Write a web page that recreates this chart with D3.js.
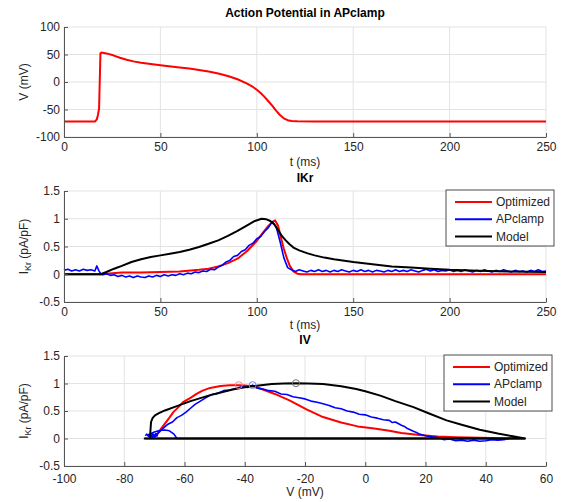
<!DOCTYPE html>
<html><head><meta charset="utf-8">
<script src="https://cdn.jsdelivr.net/npm/d3@7"></script>
<style>
body{margin:0;background:#fff}
svg{display:block}
text{font-family:"Liberation Sans",Arial,Helvetica,sans-serif}
</style>
</head><body>
<svg id="chart" width="565" height="502"></svg>
<script>
// ---------------- DATA ----------------
// Panel 1: action potential, [t (ms), V (mV)]
const apTrace = [[0,-72],[16,-72],[17,-68],[17.6,-60],[18.2,-48],[18.9,52],[19.5,53.5],[22,52],[25.5,48.5],[29,44],[32.5,40.5],[36,37.5],[40,35],[50,30.5],[60,26.5],[65,24.5],[70,22],[75,19],[80,15.5],[85,11],[90,5],[95,-3],[98,-9],[100,-14],[102,-20],[104,-27],[106,-35],[108,-43],[110,-52],[112,-60],[114,-66],[116,-69.5],[118,-71],[121,-71.5],[130,-72],[250,-72]];

// Panel 2: IKr vs time, [t (ms), I (pA/pF)]
const ikrOptimized = [[0,0],[18,0],[20,0],[25,0.02],[30,0.03],[40,0.03],[50,0.04],[60,0.05],[70,0.08],[75,0.1],[80,0.14],[85,0.2],[90,0.28],[95,0.42],[100,0.6],[103,0.74],[106,0.87],[108,0.94],[109.5,0.97],[111,0.88],[112.5,0.66],[114,0.46],[115.5,0.3],[117,0.16],[119,0.05],[121,0.01],[123,0],[250,0]];
const ikrModel = [[0,0],[19,0],[22,0.04],[26,0.1],[30,0.15],[35,0.22],[40,0.27],[45,0.31],[50,0.34],[55,0.37],[60,0.4],[65,0.44],[70,0.49],[75,0.55],[80,0.61],[85,0.69],[90,0.78],[95,0.88],[99,0.96],[102.5,1.0],[105,0.99],[107,0.96],[109,0.9],[111,0.8],[113,0.69],[115,0.61],[117,0.54],[119,0.48],[122,0.43],[126,0.38],[130,0.34],[135,0.3],[140,0.27],[150,0.22],[160,0.18],[170,0.14],[180,0.12],[190,0.1],[200,0.08],[215,0.065],[230,0.05],[250,0.04]];
const ikrAPclamp = [[0,0.07],[2,0.09],[4,0.06],[6,0.08],[8,0.06],[10,0.09],[12,0.07],[14,0.08],[16,0.06],[17,0.15],[18,0.07],[19,0.01],[20,-0.01],[22,0.01],[24,-0.02],[26,-0.01],[28,-0.04],[30,-0.02],[32,-0.05],[34,-0.03],[36,-0.06],[38,-0.03],[40,-0.05],[42,-0.06],[44,-0.03],[46,-0.05],[48,-0.02],[50,-0.04],[52,-0.01],[54,-0.03],[56,-0.01],[58,-0.02],[60,0.01],[62,-0.01],[64,0.02],[66,0.01],[68,0.04],[70,0.03],[72,0.06],[74,0.05],[76,0.09],[78,0.08],[80,0.13],[82,0.16],[84,0.22],[86,0.25],[88,0.32],[90,0.34],[92,0.41],[94,0.44],[96,0.52],[98,0.56],[100,0.64],[102,0.68],[104,0.77],[106,0.84],[108,0.95],[110,0.86],[112,0.6],[114,0.3],[116,0.12],[118,0.08],[120,0.05],[122,0.08],[124,0.06],[126,0.04],[128,0.07],[130,0.05],[132,0.08],[134,0.05],[136,0.07],[138,0.04],[140,0.07],[142,0.05],[144,0.08],[146,0.06],[148,0.04],[150,0.07],[152,0.05],[154,0.08],[156,0.05],[158,0.07],[160,0.04],[162,0.07],[164,0.06],[166,0.04],[168,0.07],[170,0.05],[172,0.08],[174,0.05],[176,0.07],[178,0.05],[180,0.08],[182,0.06],[184,0.04],[186,0.07],[188,0.09],[190,0.06],[192,0.08],[194,0.05],[196,0.07],[198,0.06],[200,0.08],[202,0.05],[204,0.07],[206,0.05],[208,0.08],[210,0.06],[212,0.04],[214,0.07],[216,0.05],[218,0.08],[220,0.06],[222,0.04],[224,0.07],[226,0.05],[228,0.08],[230,0.06],[232,0.04],[234,0.07],[236,0.05],[238,0.06],[240,0.04],[242,0.07],[244,0.05],[246,0.08],[248,0.05],[250,0.06]];

// Panel 3: IV, [V (mV), I (pA/pF)]
const ivOptimized = [[-73,0],[53,0],[45,0.005],[38,0.012],[30,0.022],[24,0.035],[18,0.065],[12,0.1],[8,0.14],[3,0.18],[-2.5,0.22],[-8,0.29],[-14,0.39],[-19.5,0.53],[-25,0.69],[-30,0.81],[-34,0.89],[-37,0.945],[-40,0.965],[-42,0.97],[-45,0.968],[-48,0.955],[-51.5,0.92],[-54,0.87],[-56,0.81],[-58,0.74],[-60.5,0.66],[-62,0.57],[-63.7,0.48],[-65,0.38],[-66.5,0.27],[-68,0.16],[-69,0.08],[-70,0.03],[-71,0.01],[-72,0]];
const ivModel = [[-73.5,0],[53,0],[49,0.04],[44,0.09],[38,0.16],[32,0.25],[27,0.33],[21,0.46],[16,0.57],[10,0.68],[5,0.78],[0,0.86],[-3,0.9],[-8,0.95],[-14,0.99],[-19,1.0],[-23,1.005],[-27,1.0],[-31,0.99],[-36,0.96],[-40,0.93],[-44,0.89],[-47,0.85],[-52,0.78],[-58,0.68],[-63,0.58],[-66.5,0.51],[-68.5,0.46],[-69.8,0.42],[-70.6,0.37],[-71.1,0.3],[-71.3,0.15],[-71.4,0.05],[-71.5,0]];
const ivAPclamp = [[-73,0.05],[-72.5,0.08],[-72,0.04],[-71.5,0.08],[-71,0.05],[-70.5,0.08],[-70,0.06],[-69.5,0.09],[-69,0.05],[-70.5,0.03],[-72,0.07],[-70,0.12],[-68,0.15],[-66.5,0.155],[-65,0.14],[-63.5,0.08],[-62.5,0],[-60,0],[53,0],[50,0.01],[48,0],[46,-0.02],[44,-0.03],[42,-0.02],[40,-0.04],[38,-0.05],[36,-0.03],[34,-0.05],[32,-0.03],[30,-0.04],[28,-0.01],[26,-0.02],[24,0.02],[22,0.03],[20,0.05],[18,0.08],[17,0.11],[16,0.13],[14,0.18],[13,0.22],[12,0.24],[10,0.3],[9,0.29],[8,0.33],[6,0.34],[4,0.37],[2,0.39],[0,0.43],[-2,0.44],[-4,0.48],[-6,0.5],[-8,0.54],[-10,0.56],[-12,0.6],[-14,0.63],[-16,0.66],[-18,0.68],[-20,0.72],[-22,0.74],[-24,0.76],[-26,0.8],[-28,0.81],[-30,0.86],[-32,0.87],[-34,0.9],[-36,0.92],[-37.4,0.97],[-39,0.93],[-41,0.94],[-43,0.91],[-45,0.88],[-47,0.87],[-49,0.82],[-51,0.8],[-53,0.74],[-55,0.67],[-56.5,0.62],[-58,0.55],[-59.5,0.48],[-61,0.42],[-62.5,0.38],[-64,0.3],[-65.5,0.26],[-67,0.19],[-68.3,0.12],[-69.5,0.06],[-71,0.04],[-72,0.06]];

// Tick values / labels
const timeTicks = [0,50,100,150,200,250];
const apTicks = [-100,-50,0,50,100];
const currentTicks = [-0.5,0,0.5,1,1.5];
const currentTickLabels = ["-0.5","0","0.5","1","1.5"];
const voltTicks = [-100,-80,-60,-40,-20,0,20,40,60];

const seriesNames = ["Optimized","APclamp","Model"];
const seriesColors = ["#ff0000","#0000ff","#000000"];
const peakColors = ["#e88a8a","#8a8ae8","#707070"];

// ---------------- LAYOUT ----------------
const svg = d3.select("#chart");
const L = 64, R = 546;
const panels = [
  {top:27, bottom:137, title:"Action Potential in APclamp", titleY:17, xlab:"t (ms)", xlabOff:29, xPad:5},
  {top:191, bottom:302, title:"IKr", titleY:182, xlab:"t (ms)", xlabOff:27, xPad:5},
  {top:356, bottom:466, title:"IV", titleY:344, xlab:"V (mV)", xlabOff:30, xPad:8}
];
const gridColor = "#e3e3e3", axisColor = "#555", textColor = "#262626";

function drawPanel(p, xs, ys, xTicks, yTicks, yLabelFn){
  const g = svg.append("g");
  g.selectAll(".gx").data(xTicks).enter().append("line")
    .attr("x1",d=>xs(d)).attr("x2",d=>xs(d)).attr("y1",p.top).attr("y2",p.bottom)
    .attr("stroke",gridColor).attr("stroke-width",1);
  g.selectAll(".gy").data(yTicks).enter().append("line")
    .attr("y1",d=>ys(d)).attr("y2",d=>ys(d)).attr("x1",L).attr("x2",R)
    .attr("stroke",gridColor).attr("stroke-width",1);
  svg.append("text").attr("x",(L+R)/2).attr("y",p.titleY).attr("text-anchor","middle")
    .attr("font-size",12).attr("font-weight","bold").attr("fill","#000").text(p.title);
  svg.append("text").attr("x",(L+R)/2).attr("y",p.bottom+p.xlabOff).attr("text-anchor","middle")
    .attr("font-size",12).attr("fill",textColor).text(p.xlab);
  const yl = svg.append("text").attr("transform",`translate(28,${(p.top+p.bottom)/2}) rotate(-90)`)
    .attr("text-anchor","middle").attr("font-size",12).attr("fill",textColor);
  yLabelFn(yl);
  return g;
}
function drawAxes(p, xs, ys, xTicks, yTicks, yFmt, xFmt){
  const ax = svg.append("g").attr("transform",`translate(0,${p.bottom})`)
    .call(d3.axisBottom(xs).tickValues(xTicks).tickSizeInner(-4).tickSizeOuter(0).tickPadding(p.xPad).tickFormat(xFmt));
  const ay = svg.append("g").attr("transform",`translate(${L},0)`)
    .call(d3.axisLeft(ys).tickValues(yTicks).tickSizeInner(-4).tickSizeOuter(0).tickPadding(4).tickFormat(yFmt));
  [ax,ay].forEach(a=>{
    a.select(".domain").attr("stroke",axisColor);
    a.selectAll(".tick line").attr("stroke",axisColor);
    a.selectAll(".tick text").attr("fill",textColor).attr("font-size",12)
      .attr("font-family",'"Liberation Sans",Arial,sans-serif');
  });
}
function ikrLabel(t){
  t.append("tspan").text("I");
  t.append("tspan").attr("font-size",9).attr("dy",3).text("Kr");
  t.append("tspan").attr("dy",-3).text(" (pA/pF)");
}
function legend(p, x, w){
  const g = svg.append("g");
  g.append("rect").attr("x",x).attr("y",p.top-1).attr("width",w).attr("height",56)
    .attr("fill","#fff").attr("stroke","#4d4d4d").attr("stroke-width",1);
  seriesNames.forEach((n,i)=>{
    const y = p.top + 11 + i*17.2;
    g.append("line").attr("x1",x+9).attr("x2",x+46).attr("y1",y).attr("y2",y)
      .attr("stroke",seriesColors[i]).attr("stroke-width",2);
    g.append("text").attr("x",x+50).attr("y",y).attr("dy","0.35em").attr("font-size",12)
      .attr("fill",textColor).text(n);
  });
}

// ---------- Panel 1 ----------
{
  const p = panels[0];
  const xs = d3.scaleLinear().domain([0,250]).range([L,R]);
  const ys = d3.scaleLinear().domain([-100,100]).range([p.bottom,p.top]);
  drawPanel(p, xs, ys, timeTicks, apTicks, t=>t.text("V (mV)"));
  const line = d3.line().x(d=>xs(d[0])).y(d=>ys(d[1]));
  svg.append("path").datum(apTrace).attr("d",line).attr("fill","none")
    .attr("stroke","#ff0000").attr("stroke-width",2).attr("stroke-linejoin","round");
  drawAxes(p, xs, ys, timeTicks, apTicks, d=>String(d), d=>String(d));
}
// ---------- Panel 2 ----------
{
  const p = panels[1];
  const xs = d3.scaleLinear().domain([0,250]).range([L,R]);
  const ys = d3.scaleLinear().domain([-0.5,1.5]).range([p.bottom,p.top]);
  drawPanel(p, xs, ys, timeTicks, currentTicks, ikrLabel);
  const line = d3.line().x(d=>xs(d[0])).y(d=>ys(d[1]));
  [ikrOptimized, ikrAPclamp, ikrModel].forEach((s,i)=>{
    svg.append("path").datum(s).attr("d",line).attr("fill","none")
      .attr("stroke",seriesColors[i]).attr("stroke-width",i===1?1.6:2).attr("stroke-linejoin","round");
  });
  drawAxes(p, xs, ys, timeTicks, currentTicks, (d,i)=>currentTickLabels[i], d=>String(d));
  legend(p, 446, 108);
}
// ---------- Panel 3 ----------
{
  const p = panels[2];
  const xs = d3.scaleLinear().domain([-100,60]).range([L,R]);
  const ys = d3.scaleLinear().domain([-0.5,1.5]).range([p.bottom,p.top]);
  drawPanel(p, xs, ys, voltTicks, currentTicks, ikrLabel);
  const line = d3.line().x(d=>xs(d[0])).y(d=>ys(d[1]));
  const ivs = [ivOptimized, ivAPclamp, ivModel];
  ivs.forEach((s,i)=>{
    svg.append("path").datum(s).attr("d",line).attr("fill","none")
      .attr("stroke",seriesColors[i]).attr("stroke-width",i===1?1.6:2).attr("stroke-linejoin","round");
  });
  ivs.forEach((s,i)=>{
    const pk = d3.greatest(s, d=>d[1]);
    svg.append("circle").attr("cx",xs(pk[0])).attr("cy",ys(pk[1])).attr("r",3.5)
      .attr("fill","none").attr("stroke",peakColors[i]).attr("stroke-width",1);
  });
  drawAxes(p, xs, ys, voltTicks, currentTicks, (d,i)=>currentTickLabels[i], d=>String(d));
  legend(p, 444, 108);
}
</script>
</body></html>
